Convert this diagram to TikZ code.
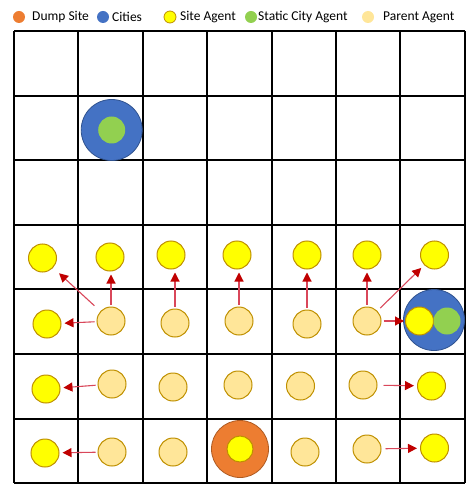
\documentclass[tikz,border=0pt]{standalone}
\usepackage{fontspec}
\setmainfont{Carlito}
\usetikzlibrary{arrows.meta}
\definecolor{dumpc}{HTML}{ED7D31}
\definecolor{dumpd}{HTML}{AE5A21}
\definecolor{cityc}{HTML}{4472C4}
\definecolor{cityd}{HTML}{2F528F}
\definecolor{sitec}{HTML}{FFFF00}
\definecolor{gold}{HTML}{BF9000}
\definecolor{greenc}{HTML}{92D050}
\definecolor{parentc}{HTML}{FFE699}
\definecolor{arrc}{HTML}{C00000}
\definecolor{arrl}{HTML}{D9475A}
\begin{document}
\begin{tikzpicture}[x=1pt,y=-1pt,
  site/.style={circle,draw=gold,line width=1pt,fill=sitec,minimum size=28pt,inner sep=0pt},
  parent/.style={circle,draw=gold,line width=1pt,fill=parentc,minimum size=28pt,inner sep=0pt},
  city/.style={circle,draw=cityd,line width=0.8pt,fill=cityc,minimum size=61pt,inner sep=0pt},
  sca/.style={circle,fill=greenc,minimum size=27pt,inner sep=0pt},
  dump/.style={circle,draw=dumpd,line width=0.8pt,fill=dumpc,minimum size=57pt,inner sep=0pt},
  ldot/.style={circle,minimum size=12pt,inner sep=0pt},
  ltext/.style={anchor=west,font=\fontsize{13.5}{14}\selectfont,inner sep=0pt},
  arr/.style={draw=arrl,line width=1.1pt,-{Triangle[length=9pt,width=9pt,fill=arrc,color=arrc]},shorten >=3pt,shorten <=2pt},
  gridline/.style={line width=2pt,black}]
\useasboundingbox[fill=white] (0,0) rectangle (465,486);
% legend
\node[ldot,fill=dumpc] (l1) at (19,17) {};
\node[ltext] (t1) at (32,17) {Dump Site};
\node[ldot,fill=cityc] (l2) at (103,17) {};
\node[ltext] (t2) at (112,17) {Cities};
\node[ldot,fill=sitec,draw=gold,line width=0.8pt] (l3) at (170,17) {};
\node[ltext] (t3) at (180,17) {Site Agent};
\node[ldot,fill=greenc] (l4) at (251,17) {};
\node[ltext] (t4) at (258,17) {Static City Agent};
\node[ldot,fill=parentc] (l5) at (368,17) {};
\node[ltext] (t5) at (383,17) {Parent Agent};
% grid
\foreach \i in {0,...,7} {
  \draw[gridline] ({14+64.4*\i},31) -- ({14+64.4*\i},483);
  \draw[gridline] (14,{31+64.6*\i}) -- (464.8,{31+64.6*\i});
}
% top city
\node[city] (c1) at (111.7,130) {};
\node[sca] (g1) at (111.7,130) {};
% row 4 site agents
\node[site] (y40) at (42.5,258) {};
\node[site] (y41) at (110,257) {};
\node[site] (y42) at (171,255) {};
\node[site] (y43) at (237,255) {};
\node[site] (y44) at (307,255) {};
\node[site] (y45) at (367,255) {};
\node[site] (y46) at (434.5,255) {};
% row 5
\node[site] (y50) at (47,324) {};
\node[parent] (p51) at (111,321) {};
\node[parent] (p52) at (175,323) {};
\node[parent] (p53) at (239,321) {};
\node[parent] (p54) at (307,324) {};
\node[parent] (p55) at (367,321) {};
\node[city] (c2) at (434,320) {};
\node[site] (y56) at (419.5,321) {};
\node[sca] (g2) at (447,321) {};
% row 6
\node[site] (y60) at (46,389) {};
\node[parent] (p61) at (112,384) {};
\node[parent] (p62) at (173,387) {};
\node[parent] (p63) at (238,385) {};
\node[parent] (p64) at (300.5,386) {};
\node[parent] (p65) at (363,385) {};
\node[site] (y66) at (431.5,386) {};
% row 7
\node[site] (y70) at (45,453) {};
\node[parent] (p71) at (112,452) {};
\node[parent] (p72) at (173,452) {};
\node[dump] (d1) at (240,449) {};
\node[site,minimum size=26pt] (y73) at (240,449) {};
\node[parent] (p74) at (305,452) {};
\node[parent] (p75) at (367,449) {};
\node[site] (y76) at (434.5,448) {};
% arrows
\draw[arr] (p51.north) -- (p51.north |- y41.south);
\draw[arr,shorten <=8pt,shorten >=8pt] (p51) -- (y40);
\draw[arr] (p51) -- (y50);
\draw[arr] (p52.north) -- (p52.north |- y42.south);
\draw[arr] (p53.north) -- (p53.north |- y43.south);
\draw[arr] (p54.north) -- (p54.north |- y44.south);
\draw[arr] (p55.north) -- (p55.north |- y45.south);
\draw[arr,shorten <=4pt,shorten >=4pt] (p55) -- (y46);
\draw[arr,shorten >=1pt] (p55) -- (y56);
\draw[arr] (p61) -- (y60);
\draw[arr,shorten <=6pt] (p65) -- (y66);
\draw[arr] (p71) -- (y70);
\draw[arr,shorten <=4pt] (p75) -- (y76);
\end{tikzpicture}
\end{document}
